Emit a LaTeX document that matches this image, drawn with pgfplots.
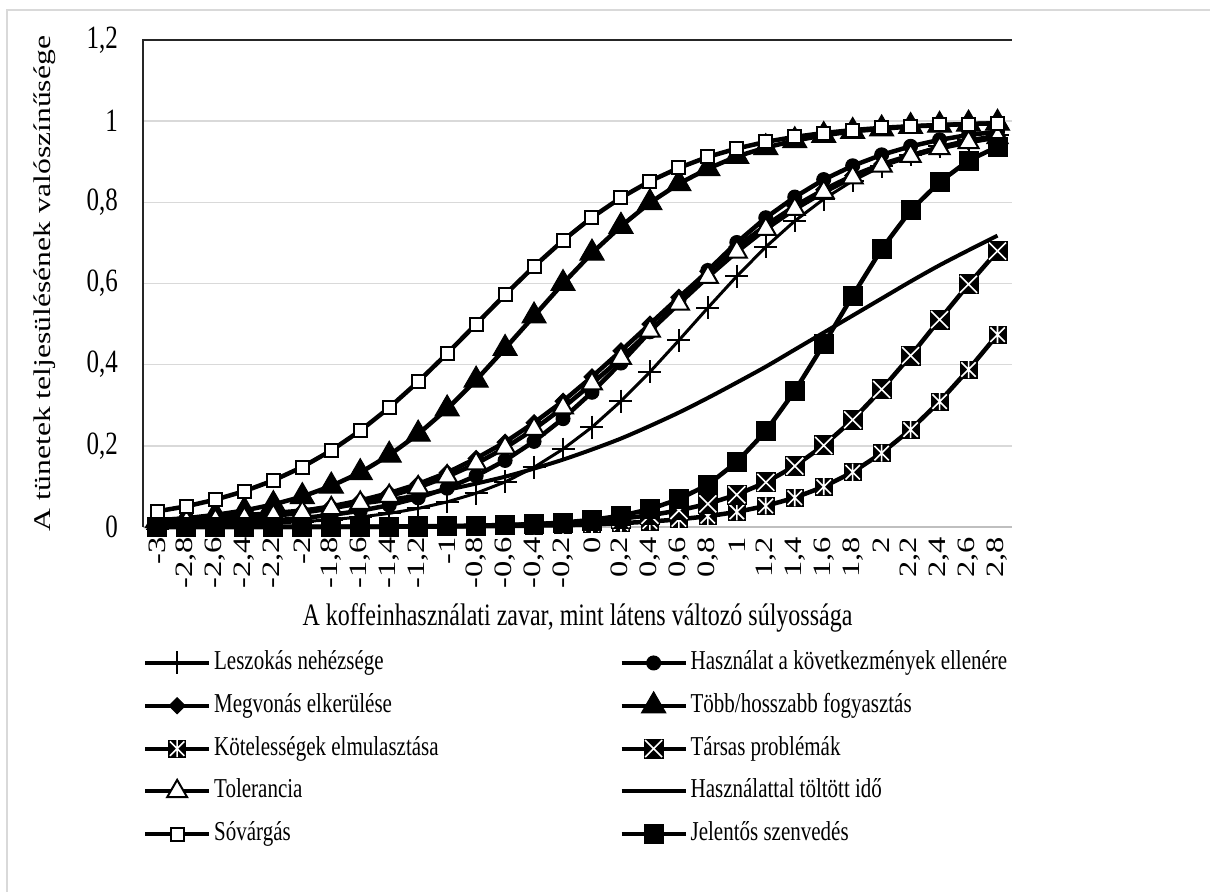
\documentclass[border=0pt]{standalone}
\usepackage{pgfplots}
\pgfplotsset{compat=1.18}
\usepackage{pgfplotstable}
\usepackage{fontspec}
\setmainfont{Liberation Serif}

\pgfdeclareplotmark{dia}{%
  \pgfpathmoveto{\pgfqpoint{0pt}{\pgfplotmarksize}}%
  \pgfpathlineto{\pgfqpoint{\pgfplotmarksize}{0pt}}%
  \pgfpathlineto{\pgfqpoint{0pt}{-\pgfplotmarksize}}%
  \pgfpathlineto{\pgfqpoint{-\pgfplotmarksize}{0pt}}%
  \pgfpathclose\pgfusepathqfillstroke}
\pgfdeclareplotmark{xbox}{%
  \pgfpathrectangle{\pgfqpoint{-\pgfplotmarksize}{-\pgfplotmarksize}}{\pgfqpoint{2\pgfplotmarksize}{2\pgfplotmarksize}}%
  \pgfusepathqfill
  \begin{pgfscope}%
  \pgfsetstrokecolor{white}\pgfsetlinewidth{1.6bp}%
  \pgfpathmoveto{\pgfqpoint{-0.85\pgfplotmarksize}{-0.85\pgfplotmarksize}}%
  \pgfpathlineto{\pgfqpoint{0.85\pgfplotmarksize}{0.85\pgfplotmarksize}}%
  \pgfpathmoveto{\pgfqpoint{-0.85\pgfplotmarksize}{0.85\pgfplotmarksize}}%
  \pgfpathlineto{\pgfqpoint{0.85\pgfplotmarksize}{-0.85\pgfplotmarksize}}%
  \pgfusepathqstroke
  \end{pgfscope}}
\pgfdeclareplotmark{starbox}{%
  \pgfpathrectangle{\pgfqpoint{-\pgfplotmarksize}{-\pgfplotmarksize}}{\pgfqpoint{2\pgfplotmarksize}{2\pgfplotmarksize}}%
  \pgfusepathqfill
  \begin{pgfscope}%
  \pgfsetstrokecolor{white}\pgfsetlinewidth{1.6bp}%
  \pgfpathmoveto{\pgfqpoint{-0.8\pgfplotmarksize}{-0.8\pgfplotmarksize}}%
  \pgfpathlineto{\pgfqpoint{0.8\pgfplotmarksize}{0.8\pgfplotmarksize}}%
  \pgfpathmoveto{\pgfqpoint{-0.8\pgfplotmarksize}{0.8\pgfplotmarksize}}%
  \pgfpathlineto{\pgfqpoint{0.8\pgfplotmarksize}{-0.8\pgfplotmarksize}}%
  \pgfpathmoveto{\pgfqpoint{0pt}{-0.95\pgfplotmarksize}}%
  \pgfpathlineto{\pgfqpoint{0pt}{0.95\pgfplotmarksize}}%
  \pgfusepathqstroke
  \end{pgfscope}}

\pgfplotstableread{
i s1 s2 s3 s4 s5 s6 s7 s8 s9 s10
0 0.0027 0.0047 0.0107 0.0158 0.0000 0.0001 0.0094 0.0181 0.0387 0.0000
1 0.0037 0.0065 0.0140 0.0217 0.0000 0.0001 0.0123 0.0214 0.0510 0.0000
2 0.0051 0.0088 0.0182 0.0298 0.0001 0.0001 0.0160 0.0252 0.0674 0.0000
3 0.0070 0.0119 0.0236 0.0407 0.0001 0.0002 0.0209 0.0297 0.0883 0.0001
4 0.0096 0.0162 0.0305 0.0555 0.0001 0.0003 0.0272 0.0351 0.1147 0.0001
5 0.0131 0.0219 0.0395 0.0750 0.0002 0.0004 0.0353 0.0413 0.1478 0.0002
6 0.0180 0.0297 0.0509 0.1010 0.0003 0.0006 0.0457 0.0486 0.1885 0.0003
7 0.0246 0.0400 0.0654 0.1340 0.0004 0.0008 0.0590 0.0570 0.2372 0.0004
8 0.0336 0.0538 0.0836 0.1770 0.0006 0.0012 0.0760 0.0669 0.2940 0.0006
9 0.0457 0.0719 0.1060 0.2290 0.0008 0.0017 0.0973 0.0783 0.3580 0.0010
10 0.0618 0.0956 0.1340 0.2910 0.0012 0.0025 0.1240 0.0916 0.4275 0.0017
11 0.0832 0.1260 0.1690 0.3620 0.0017 0.0035 0.1560 0.1070 0.5000 0.0027
12 0.1110 0.1640 0.2090 0.4400 0.0023 0.0050 0.1950 0.1240 0.5725 0.0043
13 0.1470 0.2110 0.2570 0.5200 0.0033 0.0071 0.2410 0.1440 0.6420 0.0069
14 0.1920 0.2670 0.3100 0.6000 0.0047 0.0101 0.2940 0.1660 0.7060 0.0110
15 0.2460 0.3320 0.3700 0.6750 0.0067 0.0144 0.3530 0.1910 0.7630 0.0175
16 0.3100 0.4040 0.4340 0.7410 0.0094 0.0204 0.4160 0.2180 0.8115 0.0278
17 0.3820 0.4810 0.5000 0.7990 0.0133 0.0289 0.4830 0.2490 0.8520 0.0439
18 0.4600 0.5580 0.5660 0.8460 0.0188 0.0407 0.5500 0.2820 0.8850 0.0687
19 0.5400 0.6320 0.6300 0.8830 0.0265 0.0570 0.6160 0.3180 0.9120 0.1040
20 0.6180 0.7010 0.6900 0.9130 0.0371 0.0795 0.6780 0.3560 0.9326 0.1600
21 0.6900 0.7620 0.7430 0.9350 0.0519 0.1100 0.7340 0.3950 0.9490 0.2360
22 0.7540 0.8130 0.7910 0.9520 0.0721 0.1500 0.7830 0.4370 0.9613 0.3350
23 0.8080 0.8560 0.8310 0.9650 0.0993 0.2010 0.8250 0.4790 0.9708 0.4500
24 0.8530 0.8900 0.8660 0.9750 0.1350 0.2640 0.8610 0.5210 0.9780 0.5700
25 0.8890 0.9170 0.8940 0.9810 0.1820 0.3390 0.8900 0.5630 0.9835 0.6850
26 0.9170 0.9380 0.9160 0.9870 0.2400 0.4220 0.9140 0.6050 0.9876 0.7800
27 0.9380 0.9540 0.9350 0.9900 0.3090 0.5110 0.9330 0.6450 0.9907 0.8500
28 0.9540 0.9660 0.9490 0.9930 0.3880 0.5980 0.9480 0.6820 0.9930 0.9030
29 0.9660 0.9740 0.9610 0.9950 0.4740 0.6800 0.9600 0.7180 0.9948 0.9370
}\data

\begin{document}
\begin{tikzpicture}
\useasboundingbox (0,0) rectangle (1210bp,892bp);
\draw[draw=black!15, line width=1.5bp] (7bp,-20bp) -- (7bp,882bp) -- (1230bp,882bp);
\begin{axis}[
  at={(143bp,365bp)}, anchor=south west,
  width=869bp, height=487bp, scale only axis,
  xmin=-0.5, xmax=29.5, ymin=0, ymax=1.2,
  clip=false,
  axis line style={draw=none},
  major tick length=0pt,
  xtick={0,...,29},
  xticklabels={{-3},{-2,8},{-2,6},{-2,4},{-2,2},{-2},{-1,8},{-1,6},{-1,4},{-1,2},{-1},{-0,8},{-0,6},{-0,4},{-0,2},{0},{0,2},{0,4},{0,6},{0,8},{1},{1,2},{1,4},{1,6},{1,8},{2},{2,2},{2,4},{2,6},{2,8}},
  ytick={0,0.2,0.4,0.6,0.8,1,1.2},
  /pgf/number format/use comma,
  /pgf/number format/assume math mode=true,
  tick label style={font=\fontsize{25bp}{28bp}\selectfont},
  xticklabel style={yshift=-10bp, rotate=90, xscale=1.3, anchor=east, inner sep=0pt},
  yticklabel style={anchor=east, inner sep=0pt, xshift=-25bp, yscale=1.3},
  ymajorgrids, grid style={draw=black!15, line width=1.4bp},
  xlabel={A koffeinhasználati zavar, mint látens változó súlyossága},
  ylabel={A tünetek teljesülésének valószínűsége},
  every axis x label/.style={at={(axis description cs:0.5,0)}, yshift=-91bp, anchor=center, yscale=1.3, font=\fontsize{24bp}{27bp}\selectfont},
  every axis y label/.style={at={(axis description cs:0,0.5)}, xshift=-98bp, rotate=90, xscale=1.32, anchor=center, font=\fontsize{24bp}{27bp}\selectfont},
  legend columns=2,
  legend cell align=left,
  legend style={at={(axis description cs:-0.0035,-0.240)}, anchor=north west,
    draw=none, fill=none, font=\fontsize{21bp}{24bp}\selectfont,
    nodes={inner sep=3bp, text height=15bp, text depth=5bp, yscale=1.3},
    row sep=9bp,
    /tikz/every even column/.append style={column sep=178bp}},
  legend image code/.code={\draw[mark repeat=2,mark phase=2,line width=4bp] plot coordinates {(0bp,0bp) (32bp,0bp) (64bp,0bp)};},
  every axis plot/.append style={line width=4.5bp, black},
]
\draw[draw=black!25, line width=1.5bp] (rel axis cs:0,0) -- (rel axis cs:1,0);
\draw[draw=black!85, line width=1.5bp] (rel axis cs:0,0) -- (rel axis cs:0,1) -- (rel axis cs:1,1);
\addplot[line width=3bp, mark=+, mark size=11.5bp, mark options={line width=2bp}] table[x=i,y=s1] {\data};
\addlegendentry{Leszokás nehézsége}
\addplot[mark=*, mark size=7bp, mark options={fill=black, line width=1bp}] table[x=i,y=s2] {\data};
\addlegendentry{Használat a következmények ellenére}
\addplot[mark=dia, mark size=8bp, mark options={fill=black, line width=1bp}] table[x=i,y=s3] {\data};
\addlegendentry{Megvonás elkerülése}
\addplot[mark=triangle*, mark size=14bp, mark options={fill=black, line width=1bp}] table[x=i,y=s4] {\data};
\addlegendentry{Több/hosszabb fogyasztás}
\addplot[mark=starbox, mark size=9bp, mark options={fill=black}] table[x=i,y=s5] {\data};
\addlegendentry{Kötelességek elmulasztása}
\addplot[mark=xbox, mark size=10bp, mark options={fill=black}] table[x=i,y=s6] {\data};
\addlegendentry{Társas problémák}
\addplot[mark=triangle*, mark size=11.5bp, mark options={fill=white, draw=black, line width=2bp}] table[x=i,y=s7] {\data};
\addlegendentry{Tolerancia}
\addplot[smooth, line width=4bp] table[x=i,y=s8] {\data};
\addlegendentry{Használattal töltött idő}
\addplot[mark=square*, mark size=6.5bp, mark options={fill=white, draw=black, line width=2bp}] table[x=i,y=s9] {\data};
\addlegendentry{Sóvárgás}
\addplot[mark=square*, mark size=9.5bp, mark options={fill=black, line width=1bp}] table[x=i,y=s10] {\data};
\addlegendentry{Jelentős szenvedés}
\end{axis}
\end{tikzpicture}
\end{document}
